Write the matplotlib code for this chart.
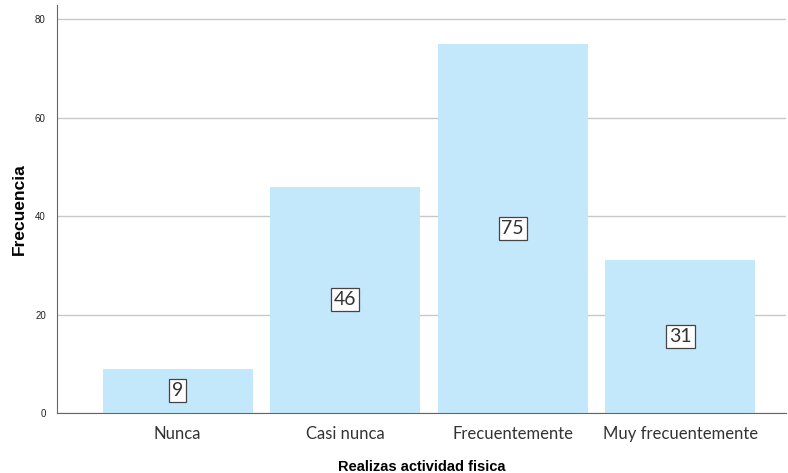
import matplotlib.pyplot as plt
import numpy as np

categorias = ['Nunca', 'Casi nunca', 'Frecuentemente', 'Muy frecuentemente']
frecuencias = [9, 46, 75, 31]
yticks = [0, 20, 40, 60, 80]

fig = plt.figure(figsize=(7.88, 4.73), dpi=100)
ax = fig.add_axes([0.0723, 0.1268, 0.925, 0.862])

x = np.arange(len(categorias))
ax.bar(x, frecuencias, width=0.895, color='#C3E8FC', zorder=2)

for xi, v in zip(x, frecuencias):
    ax.text(xi, v / 2, str(v), ha='center', va='center', fontsize=14,
            family='Lato', color='#333333', zorder=3,
            bbox=dict(boxstyle='square,pad=0.15', fc='white', ec='#444444', lw=0.9))

ax.set_xlim(-0.72, 3.63)
ax.set_ylim(0, 82.8)
ax.set_yticks(yticks)
ax.set_yticklabels([str(t) for t in yticks], family='Liberation Sans', fontsize=7, color='#222222')
ax.set_xticks(x)
ax.set_xticklabels(categorias, family='Lato', fontsize=12, color='#333333')
ax.tick_params(axis='both', length=0)
ax.tick_params(axis='y', pad=8)
ax.tick_params(axis='x', pad=9)

ax.grid(axis='y', color='#C8C8C8', lw=1, zorder=1)
for s in ['top', 'right']:
    ax.spines[s].set_visible(False)
ax.spines['left'].set_color('#666666')
ax.spines['bottom'].set_color('#666666')

ax.set_ylabel('Frecuencia', family='Liberation Sans', fontweight='bold', fontsize=12.5, labelpad=6)
ax.set_xlabel('Realizas actividad fisica', family='Liberation Sans', fontweight='bold', fontsize=10.5, labelpad=13)

fig.savefig('out.png', dpi=100)
